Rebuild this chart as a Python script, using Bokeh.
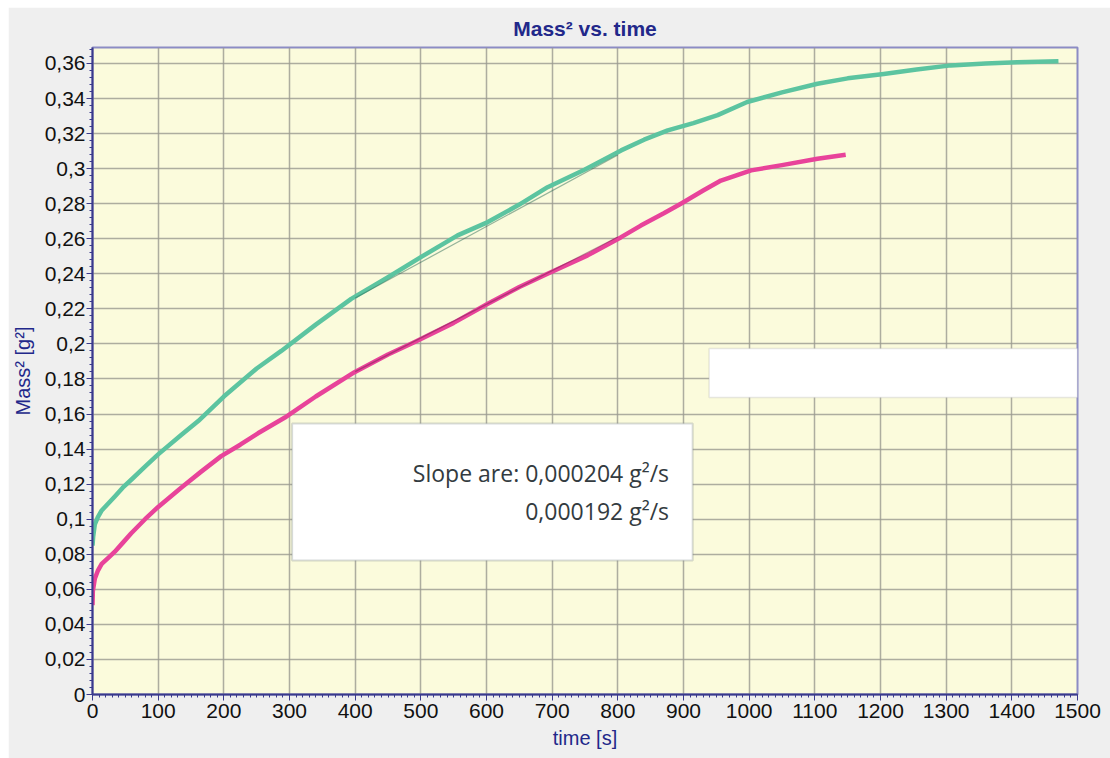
from bokeh.plotting import figure
from bokeh.models import FixedTicker, Range1d, Label, BoxAnnotation
from bokeh.embed import file_html
from bokeh.resources import INLINE

# Mass² over time for the two samples
time_a = [0, 1, 3.5, 8, 14, 24, 34, 46, 59, 80, 100, 135, 161, 200, 250, 287.5, 340,
          394, 450, 500, 556, 602, 650, 693, 750, 805, 840, 876, 915, 952, 997, 1050,
          1104, 1150, 1205, 1255, 1307, 1360, 1408, 1440, 1471]
mass2_a = [0.085, 0.090, 0.097, 0.101, 0.105, 0.109, 0.113, 0.118, 0.1225, 0.130, 0.137,
           0.148, 0.156, 0.170, 0.186, 0.196, 0.211, 0.2257, 0.238, 0.2495, 0.2619, 0.2695,
           0.2795, 0.2894, 0.2995, 0.3104, 0.3165, 0.3218, 0.326, 0.3305, 0.338, 0.3435,
           0.3484, 0.3515, 0.354, 0.3565, 0.3589, 0.360, 0.3607, 0.361, 0.3613]

time_b = [0, 0.5, 3.5, 8, 14, 24, 34, 46, 59, 80, 100, 135, 165, 196, 225, 252, 293, 340,
          399, 450, 490, 550, 602, 650, 693, 754, 805, 835, 870, 896, 930, 957, 1003, 1050,
          1104, 1147]
mass2_b = [0.051, 0.059, 0.066, 0.0705, 0.0745, 0.078, 0.0815, 0.0865, 0.092, 0.100, 0.107,
           0.118, 0.127, 0.136, 0.1425, 0.149, 0.158, 0.170, 0.1839, 0.194, 0.201, 0.212,
           0.2229, 0.2325, 0.240, 0.2505, 0.2609, 0.2675, 0.2745, 0.280, 0.2875, 0.2932,
           0.299, 0.302, 0.3056, 0.3079]

# linear fits over 400..800 s
fit_start, fit_end = 400, 800
slope_a = 0.000204
slope_b = 0.000192
fit_a0 = 0.2262
fit_b0 = 0.1842

x_ticks = list(range(0, 1501, 100))
y_ticks = [round(0.02 * i, 2) for i in range(0, 19)]


def comma(v):
    s = ("%.2f" % v).rstrip("0").rstrip(".")
    return s.replace(".", ",")


NAVY = "#22288a"

p = figure(width=1102, height=751, output_backend="svg", toolbar_location=None,
           x_range=Range1d(0, 1500), y_range=Range1d(0, 0.3691),
           title="Mass² vs. time",
           min_border_left=83, min_border_right=33, min_border_top=40, min_border_bottom=64)
p.margin = (7, 0, 0, 8)

p.background_fill_color = "#fbfbdc"
p.border_fill_color = "#efefef"
p.outline_line_color = "#8c8cc4"
p.outline_line_width = 2

p.title.align = "center"
p.title.vertical_align = "top"
p.title.text_color = NAVY
p.title.text_font = "Liberation Sans"
p.title.text_font_size = "21px"
p.title.text_font_style = "bold"
p.title.offset = 0
p.title.standoff = 12

p.xaxis.ticker = FixedTicker(ticks=x_ticks, minor_ticks=list(range(0, 1501, 10)))
p.yaxis.ticker = FixedTicker(ticks=y_ticks, minor_ticks=[round(0.004 * i, 3) for i in range(0, 93)])
p.yaxis.major_label_overrides = {v: comma(v) for v in y_ticks}
p.xaxis.major_label_overrides = {v: str(v) for v in x_ticks}

for ax in (p.xaxis[0], p.yaxis[0]):
    ax.axis_line_color = "#3a3a8c"
    ax.axis_line_width = 2
    ax.major_tick_line_color = "#3a3a8c"
    ax.minor_tick_line_color = "#3a3a8c"
    ax.major_tick_out = 6
    ax.major_tick_in = 0
    ax.minor_tick_out = 3
    ax.minor_tick_in = 0
    ax.major_label_text_font = "Liberation Sans"
    ax.major_label_text_font_size = "21px"
    ax.major_label_text_color = "#111111"
    ax.axis_label_text_font = "Liberation Sans"
    ax.axis_label_text_font_size = "20px"
    ax.axis_label_text_font_style = "normal"
    ax.axis_label_text_color = NAVY

p.xaxis.axis_label = "time [s]"
p.yaxis.axis_label = "Mass² [g²]"
p.xaxis.axis_label_standoff = 6
p.yaxis.axis_label_standoff = 8
p.yaxis.major_label_standoff = 1
p.xaxis.major_label_standoff = 3

p.grid.grid_line_color = "#9a9a90"
p.grid.grid_line_width = 1.5
p.grid.grid_line_alpha = 0.8

p.line(time_a, mass2_a, line_color="#5cc4a0", line_width=4.5, line_join="round")
p.line(time_b, mass2_b, line_color="#e8439a", line_width=4.5, line_join="round")

# fitted segments
p.line([fit_start, fit_end], [fit_a0, fit_a0 + slope_a * (fit_end - fit_start)],
       line_color="#2f6b57", line_width=1.2, line_alpha=0.5)
p.line([fit_start, fit_end], [fit_b0, fit_b0 + slope_b * (fit_end - fit_start)],
       line_color="#7a1f4f", line_width=1.2, line_alpha=0.5)

# blank annotation box
p.add_layout(BoxAnnotation(left=939, right=1500, bottom=0.1694, top=0.1974,
                           fill_color="white", fill_alpha=1.0,
                           line_color="#b4b4b4", line_width=1.5))

# slope annotation box
p.add_layout(BoxAnnotation(left=304, right=914, bottom=0.0764, top=0.1546,
                           fill_color="white", fill_alpha=1.0,
                           line_color="#7c8486", line_width=2))

slope_a_txt = ("%.6f" % slope_a).replace(".", ",")
slope_b_txt = ("%.6f" % slope_b).replace(".", ",")
p.add_layout(Label(x=913 - 35, y=0.1263, text="Slope are: %s g²/s" % slope_a_txt,
                   text_align="right", text_baseline="middle",
                   text_font="Open Sans", text_font_size="23px", text_color="#333b40"))
p.add_layout(Label(x=913 - 35, y=0.1044, text="%s g²/s" % slope_b_txt,
                   text_align="right", text_baseline="middle",
                   text_font="Open Sans", text_font_size="23px", text_color="#333b40"))

open("out.html", "w").write(file_html(p, INLINE))
